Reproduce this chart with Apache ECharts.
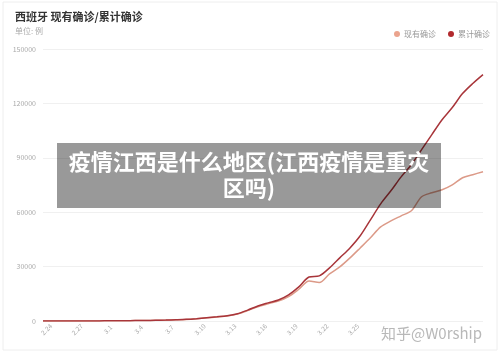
<!DOCTYPE html>
<html><head><meta charset="utf-8">
<script src="https://cdn.jsdelivr.net/npm/echarts@6/dist/echarts.min.js"></script>
<style>html,body{margin:0;padding:0;background:#fff}#c{width:500px;height:353px}</style>
</head><body><div id="c"></div>
<script>
const dates = ['2.24','2.25','2.26','2.27','2.28','2.29','3.1','3.2','3.3','3.4','3.5','3.6','3.7','3.8','3.9','3.10','3.11','3.12','3.13','3.14','3.15','3.16','3.17','3.18','3.19','3.20','3.21','3.22','3.23','3.24','3.25','3.26','3.27','3.28','3.29','3.30','3.31','4.1','4.2','4.3','4.4','4.5','4.6','4.7'];
const cumulative = [2,6,13,15,32,45,84,120,165,222,259,400,500,673,900,1300,1800,2300,2900,4000,6000,8300,10000,11600,14400,18800,24300,24900,29300,34800,40300,47000,55800,64600,71800,79500,86200,94500,102800,111000,117700,125400,131000,135900];
const active = [2,6,13,15,32,45,84,120,160,215,250,390,480,650,870,1250,1730,2200,2750,3800,5700,7900,9500,11000,13500,17500,22000,21200,26000,29800,34800,40300,45900,51900,55200,58000,60800,68500,70700,72400,75100,79000,80700,82300];
const yTicks = [0,30000,60000,90000,120000,150000];
const seriesNames = ['现有确诊','累计确诊'];

const FONT = '"Noto Sans CJK SC", "Noto Sans", sans-serif';
const chart = echarts.init(document.getElementById('c'), null, {renderer:'canvas'});
chart.setOption({
  animation:false,
  textStyle:{fontFamily:FONT},
  title:{
    text:'西班牙 现有确诊/累计确诊', left:10, top:6,
    textStyle:{fontSize:11, fontWeight:'bold', color:'#333', fontFamily:FONT},
    subtext:'单位: 例', itemGap:5,
    subtextStyle:{fontSize:8, color:'#aaa', fontFamily:FONT}
  },
  legend:{
    right:5, top:25, itemWidth:6, itemHeight:6, itemGap:12,
    icon:'circle',
    textStyle:{fontSize:8, color:'#999', fontFamily:FONT, padding:[0,0,0,-1]},
    data:seriesNames
  },
  grid:{left:43, right:17, top:49, bottom:32, containLabel:false},
  xAxis:{
    type:'category', data:dates, boundaryGap:false,
    axisLine:{show:false}, axisTick:{show:false},
    axisLabel:{
      rotate:45, fontSize:6.5, color:'#aaa', margin:12, fontFamily:FONT,
      align:'center', verticalAlign:'middle', padding:[0,0,0,10],
      interval:(i)=> i%3===0 && i<=30
    }
  },
  yAxis:{
    type:'value', min:yTicks[0], max:yTicks[yTicks.length-1], interval:30000,
    axisLine:{show:false}, axisTick:{show:false},
    axisLabel:{fontSize:7, color:'#aaa', margin:7, fontFamily:FONT, formatter:(v)=>String(v)},
    splitLine:{lineStyle:{color:'#f0f0f0', width:1}}
  },
  series:[
    {name:seriesNames[0], type:'line', data:active, symbol:'none', smooth:0.3,
     itemStyle:{color:'#eba48e'}, lineStyle:{color:'#dc9a88', width:1.5}},
    {name:seriesNames[1], type:'line', data:cumulative, symbol:'none', smooth:0.3,
     itemStyle:{color:'#b22a2e'}, lineStyle:{color:'#a8353a', width:1.5}}
  ],
  graphic:[
    {type:'rect', shape:{x:3,y:2,width:494,height:348}, style:{fill:'none', stroke:'#eeeeee', lineWidth:1}, z:-1, silent:true},
    {type:'rect', shape:{x:57,y:143,width:384,height:65}, style:{fill:'rgba(0,0,0,0.40)'}, z:100},
    {type:'text', x:249, y:162, z:101, style:{text:'疫情江西是什么地区(江西疫情是重灾', fill:'#fff', font:'bold 22px '+FONT, textAlign:'center', textVerticalAlign:'middle'}},
    {type:'text', x:249, y:188, z:101, style:{text:'区吗)', fill:'#fff', font:'bold 22px '+FONT, textAlign:'center', textVerticalAlign:'middle'}},
    {type:'text', x:381, y:333, z:101, style:{text:'知乎@W0rship', fill:'#b8b8b8', stroke:'#fff', lineWidth:1, font:'15px '+FONT, textAlign:'left', textVerticalAlign:'middle'}}
  ]
});
</script></body></html>
